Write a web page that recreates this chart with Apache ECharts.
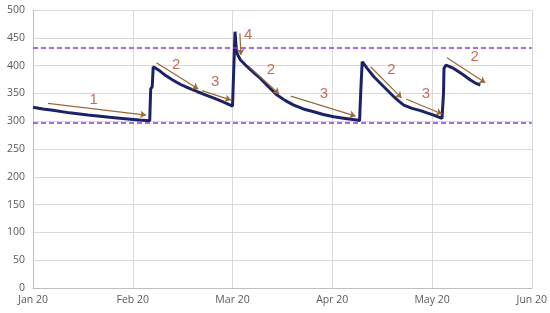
<!DOCTYPE html>
<html>
<head>
<meta charset="utf-8">
<script src="https://cdn.jsdelivr.net/npm/echarts@6/dist/echarts.min.js"></script>
<style>
  html, body { margin: 0; padding: 0; background: #fff; }
  #chart { width: 550px; height: 313px; }
</style>
</head>
<body>
<div id="chart"></div>
<script>
// x is months since Jan 20 (axis is evenly spaced by month)
var monthLabels = ["Jan 20", "Feb 20", "Mar 20", "Apr 20", "May 20", "Jun 20"];

var pressure = [
  [0, 325], [0.1, 322], [0.2, 319.5], [0.367, 315], [0.55, 311], [0.767, 307],
  [0.95, 304], [1.067, 302], [1.17, 301],
  [1.175, 330], [1.18, 358], [1.195, 362], [1.205, 398], [1.217, 398],
  [1.267, 391], [1.33, 382], [1.4, 374], [1.48, 366], [1.567, 359], [1.65, 353],
  [1.734, 347], [1.82, 341], [1.9, 335], [2.0, 327], [2.02, 326],
  [2.025, 461], [2.035, 461], [2.04, 425], [2.053, 419], [2.08, 410], [2.147, 398],
  [2.21, 388], [2.28, 377], [2.36, 362], [2.447, 347], [2.53, 337], [2.614, 329],
  [2.71, 322], [2.814, 317], [2.91, 312], [3.014, 308], [3.13, 305], [3.247, 302], [3.274, 301],
  [3.28, 330], [3.287, 359], [3.297, 362], [3.3, 407], [3.307, 407], [3.35, 395],
  [3.417, 380], [3.467, 371], [3.517, 362], [3.567, 353], [3.617, 344], [3.667, 336],
  [3.717, 329], [3.8, 323], [3.884, 319], [3.95, 315], [4.017, 311],
  [4.1, 305], [4.11, 304],
  [4.115, 350], [4.12, 395], [4.14, 401], [4.15, 403], [4.217, 395], [4.317, 383],
  [4.384, 374], [4.43, 369], [4.484, 365]
];

var limitLow = 298;
var limitHigh = 432;

// annotation arrows: [x1, y1, x2, y2]
var arrows = [
  [0.15, 332, 1.134, 311],
  [1.237, 405, 1.657, 358],
  [1.694, 355, 1.984, 338],
  [2.074, 458, 2.084, 419],
  [2.167, 398, 2.467, 349],
  [2.584, 345, 3.234, 309],
  [3.384, 398, 3.694, 342],
  [3.74, 340, 4.1, 313],
  [4.15, 414, 4.534, 369]
];

// phase numbers: [x, y, text]
var phaseLabels = [
  [0.607, 338, "1"],
  [1.434, 401, "2"],
  [1.827, 371, "3"],
  [2.157, 455, "4"],
  [2.384, 393, "2"],
  [2.917, 350, "3"],
  [3.594, 393, "2"],
  [3.94, 349, "3"],
  [4.427, 415, "2"]
];

var chart = echarts.init(document.getElementById("chart"));

chart.setOption({
  animation: false,
  grid: { left: 33, right: 17, top: 10, bottom: 25 },
  xAxis: {
    type: "value",
    min: 0,
    max: 5,
    interval: 1,
    axisLine: { show: true, lineStyle: { color: "#bfbfbf" } },
    axisTick: { show: false },
    splitLine: { show: true, lineStyle: { color: "#d9d9d9" } },
    axisLabel: {
      color: "#595959",
      fontSize: 10.5,
      fontFamily: "Open Sans",
      margin: 7,
      formatter: function (v) { return monthLabels[v] || ""; }
    }
  },
  yAxis: {
    type: "value",
    min: 0,
    max: 500,
    interval: 50,
    axisLine: { show: true, lineStyle: { color: "#bfbfbf" } },
    axisTick: { show: false },
    splitLine: { lineStyle: { color: "#d9d9d9" } },
    axisLabel: { color: "#595959", fontSize: 10.5, fontFamily: "Open Sans", margin: 8 }
  },
  series: [
    {
      type: "line",
      data: pressure,
      showSymbol: false,
      lineStyle: { color: "#1b2266", width: 3 },
      z: 3,
      markLine: {
        silent: true,
        symbol: "none",
        label: { show: false },
        lineStyle: { color: "#8e3ad6", type: [5, 3], width: 1.6 },
        data: [{ yAxis: limitLow }, { yAxis: limitHigh }]
      }
    },
    {
      type: "scatter",
      data: phaseLabels,
      symbolSize: 0,
      z: 5,
      label: {
        show: true,
        position: "inside",
        color: "#b8462e",
        fontSize: 15,
        fontFamily: "Liberation Sans",
        formatter: function (p) { return p.data[2]; }
      },
      markLine: {
        silent: true,
        symbol: ["none", "arrow"],
        symbolSize: 6,
        label: { show: false },
        lineStyle: { color: "#9c673a", type: "solid", width: 1.2 },
        data: arrows.map(function (a) {
          return [{ coord: [a[0], a[1]] }, { coord: [a[2], a[3]] }];
        })
      }
    }
  ]
});
</script>
</body>
</html>
